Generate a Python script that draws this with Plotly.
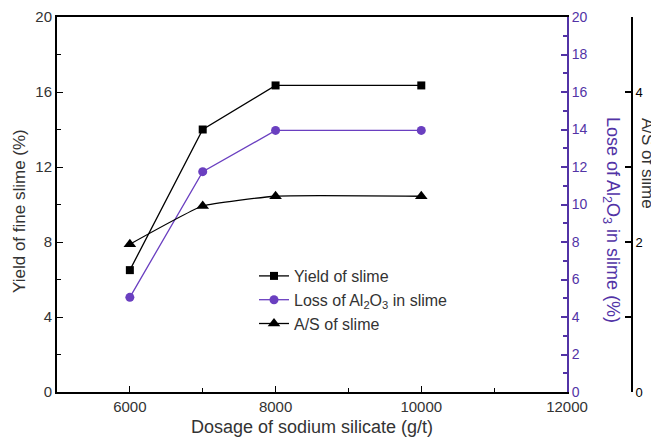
import plotly.graph_objects as go

dosage = [6000, 7000, 8000, 10000]
yield_slime = [6.5, 14.0, 16.35, 16.35]
loss_al2o3 = [5.05, 11.75, 13.95, 13.95]
as_ratio = [1.97, 2.48, 2.61, 2.61]

x_ticks = [6000, 8000, 10000, 12000]
y_ticks = [0, 4, 8, 12, 16, 20]
y2_ticks = list(range(0, 21, 2))
y3_ticks = [0, 2, 4]

PURPLE = "#6a3fc0"
PURPLE_AX = "#5233a6"
TXT = "#333333"
FONT = "Arial, Liberation Sans, sans-serif"

W, H = 651, 440
L, R, T, B = 57, 11, 17, 48
pw = W - L - R
ph = H - T - B
x_end = (567 - L) / pw
y3_pos = (632 - L) / pw

fig = go.Figure()
fig.add_trace(go.Scatter(x=dosage, y=yield_slime, name="Yield of slime",
                         mode="lines+markers", line=dict(color="black", width=1.3),
                         marker=dict(symbol="square", size=8, color="black"),
                         xaxis="x", yaxis="y"))
fig.add_trace(go.Scatter(x=dosage, y=loss_al2o3, name="Loss of Al<sub>2</sub>O<sub>3</sub> in slime",
                         mode="lines+markers", line=dict(color=PURPLE, width=1.3),
                         marker=dict(symbol="circle", size=9, color=PURPLE),
                         xaxis="x", yaxis="y2"))
fig.add_trace(go.Scatter(x=dosage, y=as_ratio, name="A/S of slime",
                         mode="lines+markers",
                         line=dict(color="black", width=1.3, shape="spline", smoothing=0.4),
                         marker=dict(symbol="triangle-up", size=11, color="black"),
                         xaxis="x", yaxis="y3"))

fig.update_layout(
    width=W, height=H, autosize=False,
    margin=dict(l=L, r=R, t=T, b=B, pad=0),
    paper_bgcolor="white", plot_bgcolor="white",
    font=dict(family=FONT, size=13, color=TXT),
    showlegend=True,
    legend=dict(x=(254 - L) / pw, y=(392 - 259) / ph, xanchor="left", yanchor="top",
                bgcolor="rgba(0,0,0,0)", font=dict(size=16, color=TXT),
                itemwidth=30, tracegroupgap=0),
    xaxis=dict(domain=[0, x_end], range=[5000, 12000], tickvals=x_ticks, tickformat="d",
               ticks="inside", ticklen=6, tickwidth=1.2, tickcolor="black",
               minor=dict(dtick=1000, tick0=5000, ticks="inside", ticklen=4, tickcolor="black"),
               showline=True, linecolor="black", linewidth=2, mirror=True, automargin=False,
               showgrid=False, zeroline=False, tickfont=dict(size=15, color=TXT),
               title=dict(text="Dosage of sodium silicate (g/t)", font=dict(size=18, color=TXT), standoff=6)),
    yaxis=dict(range=[0, 20], tickvals=y_ticks, ticks="inside", ticklen=6, tickwidth=1.2,
               tickcolor="black", automargin=False,
               minor=dict(dtick=2, tick0=0, ticks="inside", ticklen=4, tickcolor="black"),
               showline=True, linecolor="black", linewidth=2, showgrid=False, zeroline=False,
               tickfont=dict(size=15, color=TXT), anchor="x"),
    yaxis2=dict(range=[0, 20], tickvals=y2_ticks, overlaying="y", side="right", anchor="x",
                ticks="inside", ticklen=6, tickwidth=1.5, tickcolor=PURPLE_AX, automargin=False,
                minor=dict(dtick=1, tick0=0, ticks="inside", ticklen=4, tickcolor=PURPLE_AX),
                showline=True, linecolor=PURPLE_AX, linewidth=2, showgrid=False, zeroline=False,
                tickfont=dict(size=14, color=PURPLE_AX)),
    yaxis3=dict(range=[0, 5], tickvals=y3_ticks, overlaying="y", side="right", anchor="free",
                position=y3_pos, ticks="inside", ticklen=6, tickwidth=1.5, tickcolor="black",
                automargin=False,
                minor=dict(dtick=1, tick0=0, ticks="inside", ticklen=6, tickcolor="black"),
                showline=True, linecolor="black", linewidth=2, showgrid=False, zeroline=False,
                tickfont=dict(size=13, color="black")),
    annotations=[
        dict(text="Yield of fine slime (%)", xref="paper", yref="paper",
             x=(19 - L) / pw, y=(392 - 211) / ph, textangle=-90, showarrow=False,
             font=dict(size=17, color=TXT), xanchor="center", yanchor="middle"),
        dict(text="Lose of Al<sub>2</sub>O<sub>3</sub> in slime (%)", xref="paper", yref="paper",
             x=(612 - L) / pw, y=(392 - 220) / ph, textangle=90, showarrow=False,
             font=dict(size=18, color=PURPLE_AX), xanchor="center", yanchor="middle"),
        dict(text="A/S of slime", xref="paper", yref="paper",
             x=(648 - L) / pw, y=(392 - 163) / ph, textangle=90, showarrow=False,
             font=dict(size=17, color=TXT), xanchor="center", yanchor="middle"),
    ],
)

fig.write_html("out.html")
